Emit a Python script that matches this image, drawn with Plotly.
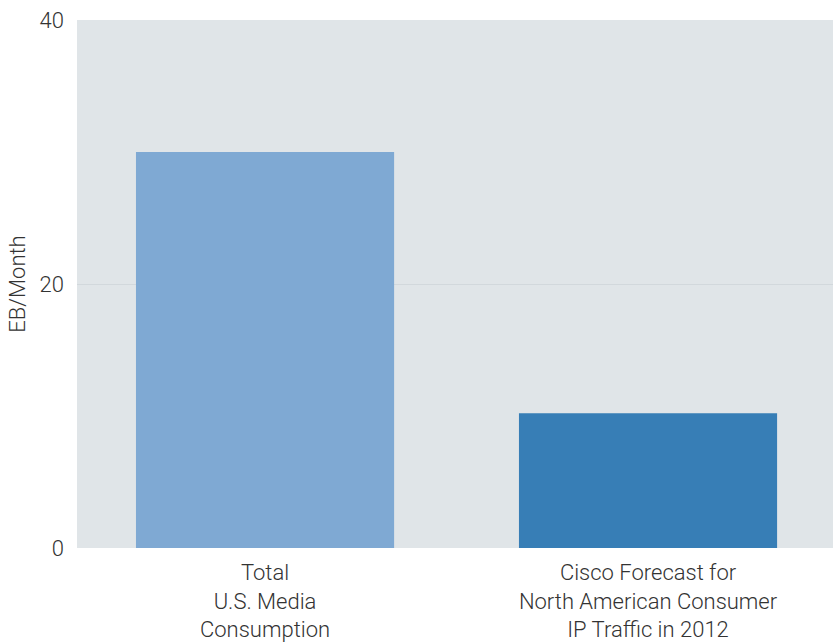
import plotly.graph_objects as go

categories = ["Total<br>U.S. Media<br>Consumption",
              "Cisco Forecast for<br>North American Consumer<br>IP Traffic in 2012"]
values = [30, 10.2]
bar_colors = ["#7fa9d3", "#377eb6"]
y_ticks = [0, 20, 40]

fig = go.Figure(go.Bar(
    x=categories,
    y=values,
    marker=dict(color=bar_colors, line=dict(width=0)),
    hoverinfo="skip",
))

font_family = "Roboto"
text_color = "#333333"
fig.update_layout(
    width=833, height=643,
    margin=dict(l=77, r=0, t=20, b=95, pad=0),
    paper_bgcolor="white",
    plot_bgcolor="#e0e5e8",
    bargap=0.326,
    showlegend=False,
    font=dict(family=font_family, color=text_color, size=22, weight=300),
)
fig.update_xaxes(
    range=[-0.491, 1.483], automargin=False,
    showgrid=False, zeroline=False, showline=False,
    ticks="", ticklabelstandoff=9,
    tickfont=dict(family=font_family, size=22, color=text_color, weight=300),
)
fig.update_yaxes(
    range=[0, 40], tickvals=y_ticks, automargin=False,
    showgrid=True, gridcolor="#d2d8dc", gridwidth=1,
    zeroline=False, showline=False, ticks="",
    ticklabelstandoff=12,
    tickfont=dict(family=font_family, size=22, color=text_color, weight=300),
    title=dict(text="EB/Month", standoff=7,
               font=dict(family=font_family, size=22, color=text_color, weight=300)),
)

fig.write_html("out.html")
